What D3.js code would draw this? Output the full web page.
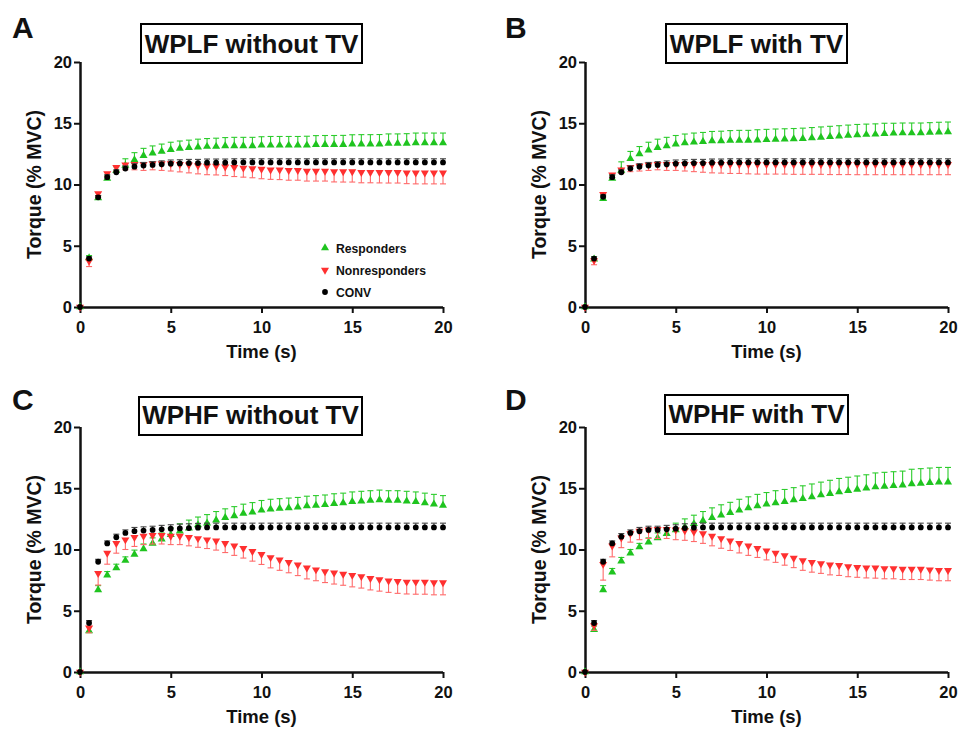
<!DOCTYPE html>
<html><head><meta charset="utf-8">
<script src="https://cdn.jsdelivr.net/npm/d3@7"></script>
<style>
body{margin:0;background:#fff}
svg{display:block}
text{font-family:"Liberation Sans",Arial,Helvetica,sans-serif;font-weight:bold;fill:#111}
</style>
</head><body>
<svg id="chart" width="958" height="729"></svg>
<script>
// ---------- DATA ----------
const time = [0,0.5,1,1.5,2,2.5,3,3.5,4,4.5,5,5.5,6,6.5,7,7.5,8,8.5,9,9.5,10,10.5,11,11.5,12,12.5,13,13.5,14,14.5,15,15.5,16,16.5,17,17.5,18,18.5,19,19.5,20];
const xTicks = [0,5,10,15,20];
const yTicks = [0,5,10,15,20];
const panelLetters = ["A","B","C","D"];
const panelTitles = ["WPLF without TV","WPLF with TV","WPHF without TV","WPHF with TV"];
const seriesNames = ["Responders","Nonresponders","CONV"];
const xLabel = "Time (s)";
const yLabel = "Torque (% MVC)";

// Panel A: WPLF without TV
const wplfNoTV_resp    = [0,4.0,8.9,10.5,11.15,11.55,12.0,12.35,12.55,12.7, 12.85,12.95,13.0,13.05,13.1,13.1,13.15,13.15,13.15,13.15, 13.2,13.2,13.2,13.2,13.2,13.2,13.25,13.25,13.25,13.25, 13.3,13.3,13.3,13.3,13.35,13.35,13.35,13.4,13.4,13.4, 13.4];
const wplfNoTV_respErr = [0,0.2,0.2,0.2,0.3,0.55,0.6,0.6,0.6,0.6, 0.6,0.6,0.62,0.65,0.65,0.68,0.68,0.7,0.7,0.7, 0.7,0.72,0.72,0.72,0.72,0.74,0.74,0.75,0.75,0.76, 0.76,0.77,0.77,0.78,0.78,0.78,0.8,0.8,0.8,0.8, 0.8];
const wplfNoTV_non     = [0,3.75,9.25,10.9,11.4,11.6,11.65,11.65,11.7,11.7, 11.7,11.65,11.6,11.55,11.5,11.5,11.45,11.4,11.35,11.3, 11.25,11.2,11.2,11.15,11.15,11.1,11.1,11.1,11.05,11.05, 11.05,11.0,11.0,11.0,11.0,11.0,10.95,10.95,10.95,10.95, 10.95];
const wplfNoTV_nonErr  = [0,0.45,0.25,0.25,0.3,0.4,0.45,0.5,0.5,0.55, 0.6,0.62,0.65,0.68,0.7,0.72,0.72,0.75,0.75,0.75, 0.78,0.78,0.8,0.8,0.8,0.82,0.82,0.82,0.84,0.85, 0.85,0.86,0.86,0.87,0.88,0.88,0.88,0.9,0.9,0.9, 0.9];
const wplfNoTV_conv    = [0,3.95,8.95,10.6,11.0,11.3,11.45,11.55,11.6,11.65, 11.7,11.72,11.75,11.75,11.78,11.78,11.78,11.8,11.8,11.8, 11.8,11.8,11.8,11.8,11.8,11.8,11.8,11.8,11.8,11.8, 11.8,11.8,11.8,11.8,11.8,11.8,11.8,11.8,11.8,11.8, 11.8];
const wplfNoTV_convErr = [0,0.15,0.15,0.2,0.2,0.22,0.25,0.25,0.27,0.28, 0.3,0.3,0.3,0.3,0.3,0.3,0.3,0.3,0.3,0.3, 0.3,0.3,0.3,0.3,0.3,0.3,0.3,0.3,0.3,0.3, 0.3,0.3,0.3,0.3,0.3,0.3,0.3,0.3,0.3,0.3, 0.3];

// Panel B: WPLF with TV
const wplfTV_resp    = [0,3.9,8.85,10.5,11.15,12.1,12.5,12.8,13.0,13.15, 13.3,13.4,13.45,13.5,13.55,13.55,13.6,13.6,13.6,13.62, 13.65,13.68,13.7,13.72,13.75,13.8,13.85,13.9,13.95,14.0, 14.05,14.08,14.1,14.15,14.18,14.2,14.2,14.22,14.25,14.28, 14.3];
const wplfTV_respErr = [0,0.2,0.2,0.25,0.7,0.6,0.6,0.65,0.7,0.7, 0.7,0.72,0.75,0.75,0.78,0.8,0.8,0.82,0.82,0.85, 0.85,0.85,0.85,0.85,0.85,0.85,0.85,0.85,0.85,0.85, 0.85,0.85,0.85,0.85,0.82,0.82,0.82,0.8,0.8,0.8, 0.8];
const wplfTV_non     = [0,3.8,9.2,10.8,11.2,11.4,11.5,11.6,11.65,11.65, 11.65,11.65,11.65,11.65,11.65,11.65,11.65,11.65,11.65,11.65, 11.65,11.65,11.65,11.65,11.65,11.65,11.65,11.65,11.65,11.65, 11.65,11.65,11.65,11.65,11.65,11.65,11.65,11.65,11.65,11.65, 11.65];
const wplfTV_nonErr  = [0,0.35,0.25,0.25,0.3,0.35,0.4,0.45,0.45,0.5, 0.5,0.55,0.6,0.65,0.7,0.72,0.75,0.75,0.78,0.8, 0.8,0.8,0.8,0.82,0.82,0.82,0.82,0.84,0.84,0.84, 0.85,0.85,0.85,0.85,0.85,0.85,0.85,0.85,0.85,0.85, 0.85];
const wplfTV_conv    = [0,3.95,9.0,10.6,11.0,11.3,11.45,11.55,11.6,11.65, 11.7,11.72,11.75,11.75,11.78,11.78,11.8,11.8,11.8,11.8, 11.8,11.8,11.8,11.8,11.8,11.8,11.8,11.8,11.8,11.8, 11.8,11.8,11.8,11.8,11.8,11.8,11.8,11.8,11.8,11.8, 11.8];
const wplfTV_convErr = [0,0.15,0.15,0.2,0.2,0.22,0.25,0.25,0.27,0.28, 0.3,0.3,0.3,0.3,0.3,0.3,0.3,0.3,0.3,0.3, 0.3,0.3,0.3,0.3,0.3,0.3,0.3,0.3,0.3,0.3, 0.3,0.3,0.3,0.3,0.3,0.3,0.3,0.3,0.3,0.3, 0.3];

// Panel C: WPHF without TV
const wphfNoTV_resp    = [0,3.35,6.7,7.9,8.5,9.1,9.6,10.05,10.5,10.85, 11.2,11.5,11.75,12.0,12.15,12.4,12.6,12.75,12.95,13.05, 13.2,13.3,13.35,13.4,13.45,13.55,13.6,13.65,13.75,13.8, 13.9,13.95,14.0,14.05,14.0,14.0,13.95,13.9,13.8,13.7, 13.6];
const wphfNoTV_respErr = [0,0.35,0.35,0.3,0.3,0.3,0.35,0.4,0.45,0.5, 0.55,0.6,0.65,0.65,0.7,0.7,0.72,0.75,0.75,0.78, 0.8,0.8,0.8,0.8,0.8,0.8,0.8,0.8,0.8,0.8, 0.8,0.8,0.8,0.8,0.8,0.8,0.8,0.8,0.8,0.8, 0.8];
const wphfNoTV_non     = [0,3.6,8.05,9.7,10.5,10.8,11.0,11.1,11.15,11.15, 11.1,11.1,11.0,10.9,10.8,10.7,10.5,10.3,10.1,9.85, 9.6,9.35,9.15,8.95,8.75,8.5,8.35,8.2,8.1,8.0, 7.9,7.8,7.65,7.55,7.45,7.4,7.35,7.35,7.35,7.3, 7.3];
const wphfNoTV_nonErr  = [0,0.4,0.95,0.9,0.8,0.8,0.75,0.7,0.7,0.7, 0.7,0.7,0.7,0.72,0.72,0.75,0.75,0.78,0.8,0.8, 0.82,0.85,0.85,0.85,0.88,0.9,0.9,0.9,0.92,0.92, 0.95,0.95,0.95,0.95,0.95,0.98,0.98,1.0,1.0,1.0, 1.0];
const wphfNoTV_conv    = [0,4.0,9.0,10.5,11.0,11.35,11.5,11.55,11.6,11.65, 11.7,11.72,11.75,11.78,11.8,11.8,11.8,11.8,11.8,11.8, 11.8,11.8,11.8,11.8,11.8,11.8,11.8,11.8,11.8,11.8, 11.8,11.8,11.8,11.8,11.8,11.8,11.8,11.8,11.8,11.8, 11.8];
const wphfNoTV_convErr = [0,0.2,0.2,0.2,0.25,0.25,0.3,0.3,0.3,0.32, 0.32,0.35,0.35,0.35,0.35,0.35,0.35,0.35,0.35,0.35, 0.35,0.35,0.35,0.35,0.35,0.35,0.35,0.35,0.35,0.35, 0.35,0.35,0.35,0.35,0.35,0.35,0.35,0.35,0.35,0.35, 0.35];

// Panel D: WPHF with TV
const wphfTV_resp    = [0,3.45,6.7,8.15,9.05,9.7,10.2,10.6,10.95,11.3, 11.6,11.85,12.1,12.35,12.6,12.8,13.0,13.2,13.4,13.55, 13.7,13.8,13.9,14.05,14.15,14.3,14.45,14.55,14.7,14.8, 14.9,15.0,15.1,15.15,15.2,15.25,15.35,15.4,15.45,15.5, 15.5];
const wphfTV_respErr = [0,0.3,0.35,0.3,0.3,0.3,0.3,0.35,0.4,0.45, 0.55,0.65,0.7,0.75,0.8,0.85,0.85,0.9,0.9,0.95, 0.95,1.0,1.0,1.0,1.05,1.05,1.05,1.1,1.1,1.1, 1.1,1.1,1.15,1.15,1.15,1.15,1.2,1.2,1.2,1.2, 1.2];
const wphfTV_non     = [0,3.8,8.8,10.3,10.95,11.3,11.5,11.6,11.65,11.65, 11.6,11.55,11.45,11.3,11.1,10.9,10.7,10.5,10.3,10.1, 9.9,9.7,9.5,9.3,9.1,8.95,8.85,8.75,8.7,8.6, 8.55,8.5,8.5,8.45,8.45,8.4,8.4,8.4,8.35,8.3, 8.3];
const wphfTV_nonErr  = [0,0.4,1.3,0.9,0.8,0.7,0.7,0.7,0.75,0.75, 0.8,0.8,0.8,0.8,0.8,0.8,0.78,0.78,0.78,0.75, 0.75,0.75,0.78,0.78,0.8,0.8,0.8,0.82,0.82,0.82, 0.82,0.82,0.84,0.84,0.84,0.85,0.85,0.85,0.85,0.85, 0.85];
const wphfTV_conv    = [0,4.0,9.0,10.5,11.05,11.35,11.5,11.6,11.6,11.65, 11.7,11.75,11.78,11.8,11.8,11.8,11.8,11.8,11.8,11.8, 11.8,11.8,11.8,11.8,11.8,11.8,11.8,11.8,11.8,11.8, 11.8,11.8,11.8,11.8,11.8,11.8,11.8,11.8,11.8,11.8, 11.8];
const wphfTV_convErr = [0,0.2,0.2,0.2,0.25,0.25,0.3,0.3,0.3,0.32, 0.32,0.35,0.35,0.35,0.35,0.35,0.35,0.35,0.35,0.35, 0.35,0.35,0.35,0.35,0.35,0.35,0.35,0.35,0.35,0.35, 0.35,0.35,0.35,0.35,0.35,0.35,0.35,0.35,0.35,0.35, 0.35];

// ---------- STYLE / LAYOUT ----------
const colors = {resp:"#1fc41f", non:"#ff3030", conv:"#000000"};
const errColors = {resp:"#2ccc2c", non:"#ff6a6a", conv:"#444444"};
const FONT = '"Liberation Sans",Arial,Helvetica,sans-serif';

const panels = [
  {letter:panelLetters[0], title:panelTitles[0],
   series:[[wplfNoTV_resp,wplfNoTV_respErr],[wplfNoTV_non,wplfNoTV_nonErr],[wplfNoTV_conv,wplfNoTV_convErr]],
   x0:80, x1:443, y0:307, y1:62, lx:12, ly:38, box:[141,24,221,39], ty:53, legend:true},
  {letter:panelLetters[1], title:panelTitles[1],
   series:[[wplfTV_resp,wplfTV_respErr],[wplfTV_non,wplfTV_nonErr],[wplfTV_conv,wplfTV_convErr]],
   x0:585, x1:948, y0:307, y1:62, lx:505, ly:38, box:[666,24,181,39], ty:53, legend:false},
  {letter:panelLetters[2], title:panelTitles[2],
   series:[[wphfNoTV_resp,wphfNoTV_respErr],[wphfNoTV_non,wphfNoTV_nonErr],[wphfNoTV_conv,wphfNoTV_convErr]],
   x0:80, x1:443, y0:672, y1:427, lx:12, ly:410, box:[139,397,223,38], ty:424, legend:false},
  {letter:panelLetters[3], title:panelTitles[3],
   series:[[wphfTV_resp,wphfTV_respErr],[wphfTV_non,wphfTV_nonErr],[wphfTV_conv,wphfTV_convErr]],
   x0:585, x1:948, y0:672, y1:427, lx:505, ly:410, box:[665,395,183,39], ty:423, legend:false}
];

const svg = d3.select("#chart");
const keys = ["resp","non","conv"];
const dirs = {resp:1, non:-1, conv:1};
const triUp = d3.symbol().type(d3.symbolTriangle).size(28)();
const circ = d3.symbol().type(d3.symbolCircle).size(26)();

function marker(sel, key){
  if(key==="conv") sel.attr("d", circ);
  else sel.attr("d", triUp);
}

panels.forEach(p => {
  const g = svg.append("g");
  const x = d3.scaleLinear().domain([0,20]).range([p.x0,p.x1]);
  const y = d3.scaleLinear().domain([0,20]).range([p.y0,p.y1]);

  // panel letter
  g.append("text").attr("x",p.lx).attr("y",p.ly).attr("font-size",30).text(p.letter);
  // title box
  g.append("rect").attr("x",p.box[0]).attr("y",p.box[1]).attr("width",p.box[2]).attr("height",p.box[3])
    .attr("fill","#fff").attr("stroke","#000").attr("stroke-width",2);
  g.append("text").attr("x",p.box[0]+p.box[2]/2).attr("y",p.ty).attr("text-anchor","middle")
    .attr("font-size",26).attr("fill","#000").text(p.title);

  // axes
  const ax = g.append("g").attr("transform",`translate(0,${p.y0})`)
    .call(d3.axisBottom(x).tickValues(xTicks).tickSize(6).tickSizeOuter(0).tickPadding(8).tickFormat(d3.format("d")));
  const ay = g.append("g").attr("transform",`translate(${p.x0},0)`)
    .call(d3.axisLeft(y).tickValues(yTicks).tickSize(6).tickSizeOuter(0).tickPadding(2).tickFormat(d3.format("d")));
  [ax,ay].forEach(a=>{
    a.select(".domain").attr("stroke","#111").attr("stroke-width",2.5);
    a.selectAll(".tick line").attr("stroke","#111").attr("stroke-width",2);
    a.selectAll(".tick text").attr("font-family",FONT).attr("font-weight","bold").attr("font-size",16.5).attr("fill","#111");
  });
  ay.select(".domain").attr("d",`M0.5,${p.y0+1.25}V${p.y1}`);
  ax.select(".domain").attr("d",`M${p.x0-1.25},0.5H${p.x1}`);

  // axis titles
  g.append("text").attr("x",(p.x0+p.x1)/2).attr("y",p.y0+51).attr("text-anchor","middle")
    .attr("font-size",18.5).text(xLabel);
  g.append("text").attr("transform",`translate(${p.x0-39},${(p.y0+p.y1)/2}) rotate(-90)`)
    .attr("text-anchor","middle").attr("font-size",19.5).text(yLabel);

  // series
  keys.forEach((k,si) => {
    const vals = p.series[si][0], errs = p.series[si][1];
    const pts = time.map((t,i)=>({t, v:vals[i], e:errs[i]}));
    const sg = g.append("g");
    const eb = sg.append("g").attr("stroke",errColors[k]).attr("stroke-width",1.1).attr("fill","none");
    pts.filter(d=>d.e>0).forEach(d=>{
      const xx = x(d.t), ya = y(d.v), yb = y(d.v + dirs[k]*d.e);
      eb.append("line").attr("x1",xx).attr("x2",xx).attr("y1",ya).attr("y2",yb);
      eb.append("line").attr("x1",xx-3).attr("x2",xx+3).attr("y1",yb).attr("y2",yb);
    });
    sg.selectAll("path.m").data(pts).enter().append("path").attr("class","m")
      .call(marker,k)
      .attr("fill",colors[k])
      .attr("transform",d=>`translate(${x(d.t)},${y(d.v)})` + (k==="non"?" rotate(180)":""));
  });

  if(p.legend){
    const lg = g.append("g");
    const rows = [248,270,292];
    keys.forEach((k,i)=>{
      lg.append("path").call(marker,k).attr("fill",colors[k])
        .attr("transform",`translate(325,${rows[i]})`+(k==="non"?" rotate(180)":""));
      lg.append("text").attr("x",336).attr("y",rows[i]+4.5).attr("font-size",12.2).attr("fill","#222").text(seriesNames[i]);
    });
  }
});
</script>
</body></html>
